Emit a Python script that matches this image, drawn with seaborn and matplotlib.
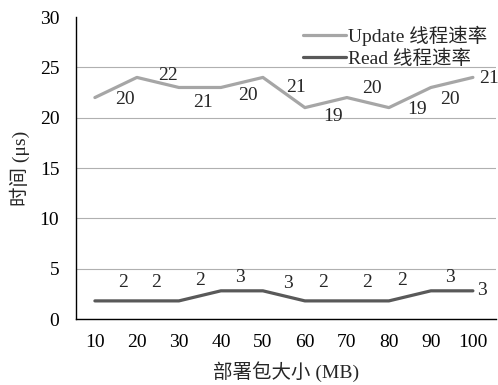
#Update / Read thread time vs deployment package size
import pandas as pd
import numpy as np
import matplotlib
matplotlib.use('Agg')
import matplotlib.pyplot as plt
import seaborn as sns

#Data
Sizes = [10, 20, 30, 40, 50, 60, 70, 80, 90, 100]
Update_Time = [22, 24, 23, 23, 24, 21, 22, 21, 23, 24]
Read_Time = [1.8, 1.8, 1.8, 2.8, 2.8, 1.8, 1.8, 1.8, 2.8, 2.8]
Update_Labels = ['20', '22', '21', '20', '21', '19', '20', '19', '20', '21']
Read_Labels = ['2', '2', '2', '3', '3', '2', '2', '2', '3', '3']
Update_Name = 'Update 线程速率'
Read_Name = 'Read 线程速率'

#Label offsets (pixels, right / up) to sit where the reference has them
Update_Off = [(30, -2), (31, 2), (24, -15), (27, -8), (33, -10),
              (28, -9), (25, 9), (28, -2), (19, -12), (16, -1)]
Read_Off = [(28, 18), (19, 18), (21, 20), (19, 13), (25, 7),
            (18, 18), (20, 18), (13, 20), (19, 13), (9, 0)]

Df = pd.DataFrame({
    'Size': Sizes * 2,
    'Time': Update_Time + Read_Time,
    'Series': [Update_Name] * len(Sizes) + [Read_Name] * len(Sizes),
})

sns.set_style('white')
Fonts = ['Liberation Serif', 'Noto Sans CJK SC']
plt.rcParams['font.family'] = Fonts
FS = 14

fig = plt.figure(figsize=(4.98, 3.85), dpi=100)
ax = fig.add_axes([0.1526, 0.1714, 0.8434, 0.7844])

Colors = {Update_Name: '#a6a6a6', Read_Name: '#595959'}
sns.lineplot(data=Df, x='Size', y='Time', hue='Series', palette=Colors,
             linewidth=2.3, ax=ax)

for xv, yv, lab, off in zip(Sizes, Update_Time, Update_Labels, Update_Off):
    ax.annotate(lab, (xv, yv), xytext=off, textcoords='offset pixels',
                ha='center', va='center', fontsize=FS)
for xv, yv, lab, off in zip(Sizes, Read_Time, Read_Labels, Read_Off):
    ax.annotate(lab, (xv, yv), xytext=off, textcoords='offset pixels',
                ha='center', va='center', fontsize=FS)

ax.set_xlim(5.5, 105.5)
ax.set_ylim(0, 30)
ax.set_xticks(Sizes)
ax.set_yticks(np.arange(0, 31, 5))
ax.yaxis.grid(True, color='#b0b0b0', linewidth=0.8)
ax.get_ygridlines()[-1].set_visible(False)
ax.set_axisbelow(True)

for s in ['top', 'right']:
    ax.spines[s].set_visible(False)
for s in ['left', 'bottom']:
    ax.spines[s].set_color('black')
    ax.spines[s].set_linewidth(1.0)

ax.tick_params(axis='x', direction='in', length=5, width=0.9, colors='black',
               pad=11, labelsize=FS)
ax.tick_params(axis='y', direction='out', length=3, width=0.9, colors='black',
               pad=9, labelsize=FS)

ax.set_xlabel('部署包大小 (MB)', fontsize=FS, labelpad=7)
ax.set_ylabel('时间 (μs)', fontsize=FS, labelpad=7)

ax.legend(loc='upper right', frameon=False, fontsize=FS, handlelength=2.2,
          handletextpad=0.1, borderaxespad=0.05, labelspacing=0.2)

fig.savefig('out.png', dpi=100)
